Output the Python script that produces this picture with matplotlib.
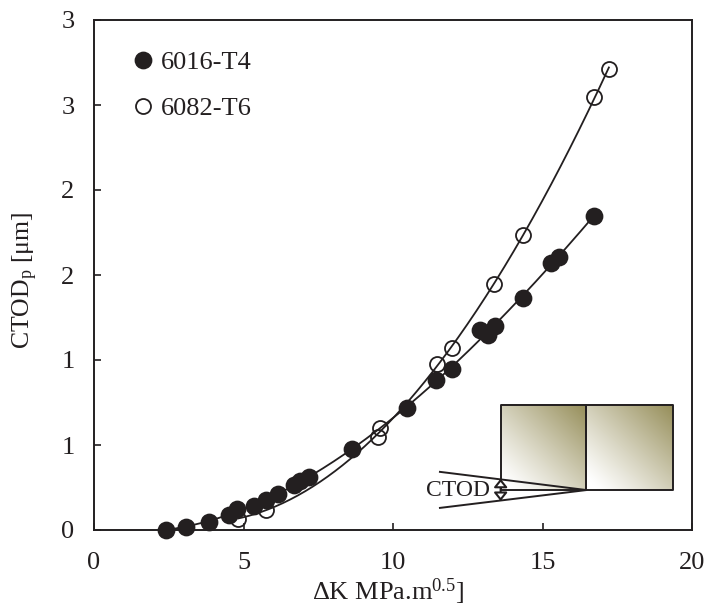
import numpy as np
import matplotlib
matplotlib.use("Agg")
import matplotlib.pyplot as plt

plt.rcParams['font.family'] = ['Liberation Serif', 'DejaVu Serif']
plt.rcParams['mathtext.fontset'] = 'custom'
plt.rcParams['mathtext.rm'] = 'Liberation Serif'
plt.rcParams['mathtext.default'] = 'regular'

dk_t4 = [2.41, 3.08, 3.85, 4.52, 4.78, 5.35, 5.75, 6.15, 6.69, 6.89, 7.19, 8.63,
         10.47, 11.44, 11.97, 12.91, 13.18, 13.41, 14.35, 15.28, 15.55, 16.72]
ctod_t4 = [0.0, 0.02, 0.05, 0.09, 0.125, 0.14, 0.175, 0.21, 0.265, 0.29, 0.31, 0.475,
           0.72, 0.88, 0.945, 1.175, 1.15, 1.2, 1.365, 1.57, 1.605, 1.85]
dk_t6 = [4.82, 5.75, 9.5, 9.57, 11.47, 11.97, 13.38, 14.35, 16.72, 17.22]
ctod_t6 = [0.065, 0.12, 0.545, 0.60, 0.975, 1.07, 1.447, 1.735, 2.547, 2.71]
x_ticks = [0, 5, 10, 15, 20]
y_ticks = [0, 0.5, 1, 1.5, 2, 2.5, 3]
y_labels = ['0', '1', '1', '2', '2', '3', '3']

W, H = 705, 612
fig = plt.figure(figsize=(W / 100, H / 100), dpi=100)
ax = fig.add_axes([94 / W, 1 - 530 / H, (692 - 94) / W, (530 - 20) / H])

for xs, ys in ((dk_t4, ctod_t4), (dk_t6, ctod_t6)):
    coef = np.polyfit(xs, ys, 3)
    xx = np.linspace(min(xs), max(xs), 200)
    ax.plot(xx, np.polyval(coef, xx), color='#231f20', lw=1.3, zorder=3)

ax.plot(dk_t4, ctod_t4, 'o', ms=12.8, mfc='#231f20', mec='#231f20', mew=0,
        clip_on=False, zorder=4, label='6016-T4')
ax.plot(dk_t6, ctod_t6, 'o', ms=10.8, mfc='none', mec='#231f20', mew=1.3,
        clip_on=False, zorder=5, label='6082-T6')

ax.set_xticks(x_ticks)
ax.set_yticks(y_ticks)
ax.set_yticklabels(y_labels)
ax.tick_params(direction='in', length=5, width=1.2, labelsize=19,
               colors='#231f20')
ax.tick_params(axis='x', pad=15.5)
ax.tick_params(axis='y', pad=14)
for s in ax.spines.values():
    s.set_linewidth(1.4)
    s.set_color('#231f20')

ax.set_xlabel(r'$\Delta$K MPa.m$^{0.5}$]', fontsize=19, color='#231f20', labelpad=2,
              x=0.4916)
ax.set_ylabel(r'CTOD$_{p}$ [μm]', fontsize=18.5, color='#231f20', labelpad=15,
              y=0.49)

leg = ax.legend(loc='upper left', bbox_to_anchor=(0.038, 0.94), frameon=False,
                fontsize=19, handletextpad=-0.33, labelspacing=0.85, borderpad=0,
                borderaxespad=0, labelcolor='#231f20')

# inset schematic of the crack
x0, xm, x1 = 13.6, 16.47, 19.35
y0, y1 = 0.235, 0.737
olive = np.array([0x95, 0x8d, 0x58]) / 255
g = np.linspace(0, 1, 100)
u, v = np.meshgrid(g, g)
t = (np.clip((u + v - 0.15) / 1.85, 0, 1) ** 1.1)[..., None]
img = (1 - t) * np.ones(3) + t * olive
for a, b in ((x0, xm), (xm, x1)):
    ax.imshow(img, origin='lower', extent=(a, b, y0, y1), aspect='auto', zorder=1)
    ax.plot([a, b, b, a, a], [y0, y0, y1, y1, y0], color='#231f20', lw=1.4, zorder=2)
ax.set_xlim(0, 20)
ax.set_ylim(0, 3)
ax.plot([11.57, xm, 11.57], [0.342, 0.235, 0.13], color='#231f20', lw=1.4, zorder=2)
ax.annotate('', xy=(13.6, 0.302), xytext=(13.6, 0.17),
            arrowprops=dict(arrowstyle='<|-|>,head_length=0.5,head_width=0.4',
                            color='#231f20', lw=1.5, fc='white',
                            shrinkA=0, shrinkB=0, mutation_scale=10), zorder=3)
ax.text(11.12, 0.235, 'CTOD', fontsize=17, color='#231f20', va='center', ha='left', zorder=3)

fig.savefig('out.png', dpi=100, facecolor='white')
